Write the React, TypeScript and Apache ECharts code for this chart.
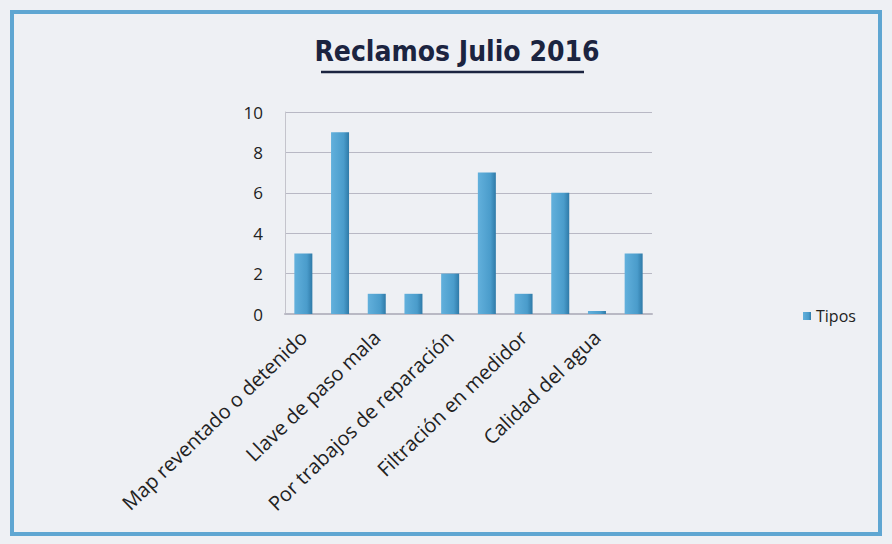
import React, { useEffect, useRef } from "react";
import * as echarts from "echarts";

const categories = [
  "Map reventado o detenido",
  "Reclamo 2",
  "Llave de paso mala",
  "Reclamo 4",
  "Por trabajos de reparación",
  "Reclamo 6",
  "Filtración en medidor",
  "Reclamo 8",
  "Calidad del agua",
  "Reclamo 10",
];
const values = [3, 9, 1, 1, 2, 7, 1, 6, 0.15, 3];
const seriesName = "Tipos";
const titleText = "Reclamos Julio 2016";

export default function App() {
  const ref = useRef<HTMLDivElement>(null);
  useEffect(() => {
    if (!ref.current) return;
    const chart = echarts.init(ref.current, null, { renderer: "svg" });
    chart.setOption({
      animation: false,
      backgroundColor: "#eef0f4",
      title: {
        text: titleText,
        left: 452,
        top: 32,
        textAlign: "center",
        textStyle: {
          fontFamily: "DejaVu Sans Condensed",
          fontWeight: "bold",
          fontSize: 28,
          color: "#1b2440",
        },
      },
      graphic: [
        {
          type: "rect",
          shape: { x: 12, y: 12, width: 868, height: 522 },
          style: { fill: "none", stroke: "#5fa6d2", lineWidth: 4 },
          silent: true,
        },
        {
          type: "line",
          shape: { x1: 321, y1: 72, x2: 584, y2: 72 },
          style: { stroke: "#1b2440", lineWidth: 2.5 },
          silent: true,
        },
      ],
      legend: {
        data: [seriesName],
        left: 798,
        top: 303,
        itemWidth: 8,
        itemHeight: 8,
        itemGap: 4,
        icon: "rect",
        textStyle: { fontSize: 16, color: "#222", fontFamily: "Open Sans" },
      },
      grid: { left: 285, right: 240, top: 112, bottom: 230 },
      xAxis: {
        type: "category",
        data: categories,
        axisTick: { show: false },
        axisLine: { lineStyle: { color: "#b9b9c4", width: 2 } },
        axisLabel: {
          interval: 1,
          rotate: 44,
          fontSize: 20,
          color: "#222",
          fontFamily: "Open Sans",
          margin: 20,
        },
      },
      yAxis: {
        type: "value",
        min: 0,
        max: 10,
        interval: 2,
        axisLine: { show: true, lineStyle: { color: "#c4c4cc" } },
        splitLine: { lineStyle: { color: "#b8b8c4", width: 1.2 } },
        axisLabel: {
          fontSize: 17,
          color: "#222",
          fontFamily: "Open Sans",
          margin: 22,
        },
      },
      series: [
        {
          name: seriesName,
          type: "bar",
          data: values,
          barWidth: 18,
          itemStyle: {
            color: new echarts.graphic.LinearGradient(0, 0, 1, 0, [
              { offset: 0, color: "#62b0dc" },
              { offset: 0.7, color: "#4a9ccb" },
              { offset: 1, color: "#2f7aa8" },
            ]),
          },
        },
      ],
    });
    return () => chart.dispose();
  }, []);
  return (
    <div
      ref={ref}
      style={{ position: "fixed", left: 0, top: 0, width: 892, height: 544 }}
    />
  );
}
